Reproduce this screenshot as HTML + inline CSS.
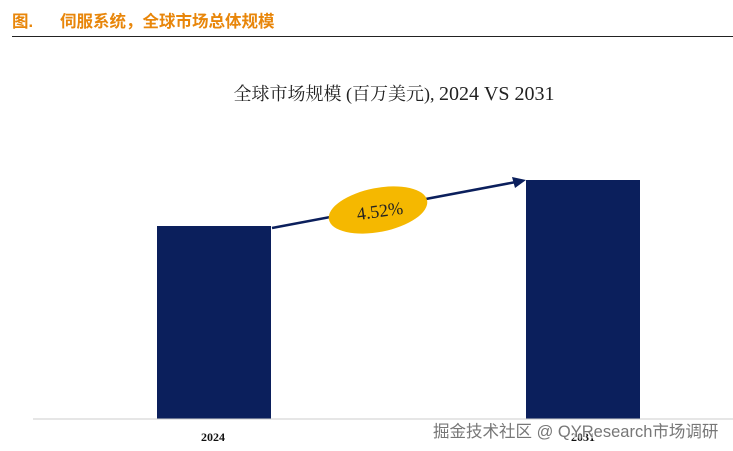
<!DOCTYPE html>
<html><head><meta charset="utf-8"><style>
body{margin:0;width:733px;height:451px;background:#fff;overflow:hidden;position:relative;font-family:"Liberation Serif","Noto Serif CJK SC",serif}
.hd{position:absolute;top:8px;font:bold 16.5px "Liberation Sans","Noto Sans CJK SC",sans-serif;color:#e8860a;white-space:pre}
</style></head><body>
<div class="hd" style="left:12px">图.</div>
<div class="hd" style="left:60px">伺服系统，全球市场总体规模</div>
<div style="position:absolute;left:12px;top:36px;width:721px;height:1px;background:#222"></div>
<svg width="733" height="451" style="position:absolute;left:0;top:0">
<text x="394" y="100" text-anchor="middle" font-size="18" fill="#222" font-family="Liberation Serif,Noto Serif CJK SC,serif">全球市场规模 (百万美元), <tspan font-size="20">2024 VS 2031</tspan></text>
<rect x="157" y="226" width="114" height="193" fill="#0b1f5c"/>
<rect x="526" y="180" width="114" height="239" fill="#0b1f5c"/>
<line x1="33" y1="419" x2="733" y2="419" stroke="#ccc" stroke-width="1"/>
<line x1="272" y1="228" x2="516" y2="182" stroke="#0b1f5c" stroke-width="2.5"/>
<polygon points="526,180 512,177 515,188" fill="#0b1f5c"/>
<ellipse cx="378" cy="210" rx="50" ry="22" fill="#f5b800" transform="rotate(-11 378 210)"/>
<text x="380" y="217" text-anchor="middle" font-size="18" fill="#222" transform="rotate(-8 380 212)">4.52%</text>
<text x="213" y="441" text-anchor="middle" font-size="12" font-weight="bold" fill="#111">2024</text>
<text x="583" y="441" text-anchor="middle" font-size="12" font-weight="bold" fill="#111">2031</text>
<text x="433" y="437" font-size="16.5" fill="#fff" stroke="#fff" stroke-width="3" font-family="Liberation Sans,Noto Sans CJK SC,sans-serif" opacity="0.7">掘金技术社区 @ QYResearch市场调研</text>
<text x="433" y="437" font-size="16.5" fill="#777" font-family="Liberation Sans,Noto Sans CJK SC,sans-serif">掘金技术社区 @ QYResearch市场调研</text>
</svg>
</body></html>
